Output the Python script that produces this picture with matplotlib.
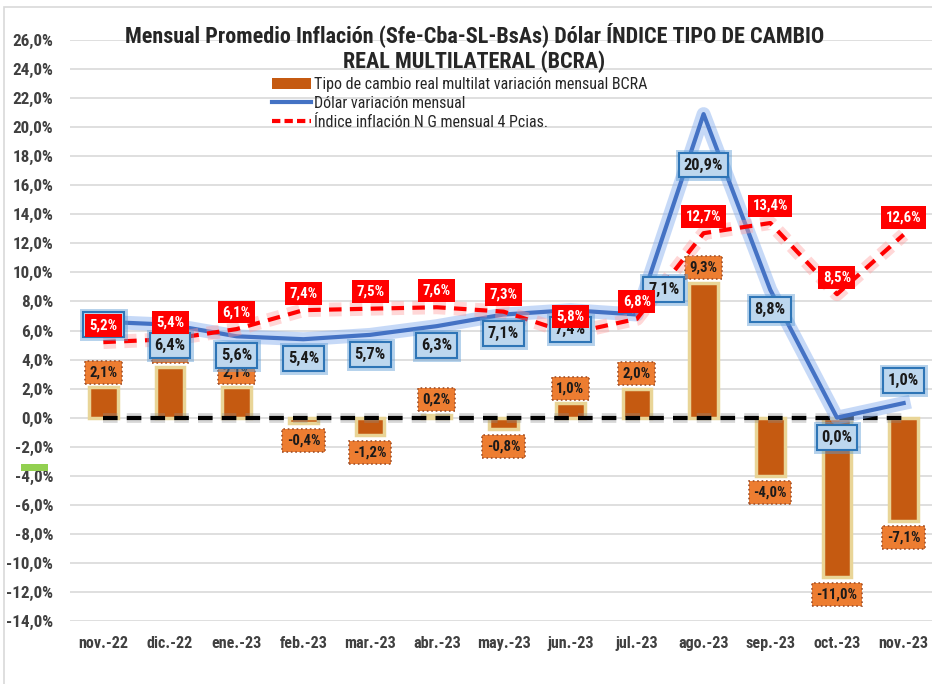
import matplotlib
matplotlib.use('Agg')
import matplotlib.pyplot as plt
import matplotlib.patheffects as pe
from matplotlib import font_manager
from matplotlib.patches import Rectangle, Patch
from matplotlib.lines import Line2D
import numpy as np

# ---- font choice: prefer a narrow, Calibri-like face ----
_avail = {(f.name, f.stretch) for f in font_manager.fontManager.ttflist}
_names = {n for n, _ in _avail}
FONT = 'DejaVu Sans'
STRETCH = 'normal'
for cand in ['Liberation Sans Narrow', 'Roboto Condensed', 'Open Sans Condensed']:
    if cand in _names:
        FONT = cand
        break
else:
    if any(n == 'DejaVu Sans' and s in ('condensed', 'semi-condensed', 'semi-condensed')
           for n, s in _avail):
        FONT, STRETCH = 'DejaVu Sans', 'condensed'
    elif 'Lato' in _names:
        FONT = 'Lato'
plt.rcParams['font.family'] = [FONT, 'DejaVu Sans']
plt.rcParams['font.stretch'] = STRETCH

categories = ['nov.-22', 'dic.-22', 'ene.-23', 'feb.-23', 'mar.-23', 'abr.-23', 'may.-23',
              'jun.-23', 'jul.-23', 'ago.-23', 'sep.-23', 'oct.-23', 'nov.-23']
tcrm = [2.1, 3.5, 2.1, -0.4, -1.2, 0.2, -0.8, 1.0, 2.0, 9.3, -4.0, -11.0, -7.1]
dolar = [6.6, 6.4, 5.6, 5.4, 5.7, 6.3, 7.1, 7.4, 7.1, 20.9, 8.8, 0.0, 1.0]
inflacion = [5.2, 5.4, 6.1, 7.4, 7.5, 7.6, 7.3, 5.8, 6.8, 12.7, 13.4, 8.5, 12.6]
cero = [0.0] * 13
yticks = list(range(-14, 27, 2))
series_names = ['Tipo de cambio real multilat variación mensual BCRA',
                'Dólar variación mensual',
                'Índice inflación N G mensual 4 Pcias.']
title_lines = ['Mensual Promedio Inflación (Sfe-Cba-SL-BsAs) Dólar ÍNDICE TIPO DE CAMBIO',
               'REAL MULTILATERAL (BCRA)']

# label offsets in pixels (placement only)
dolar_off = [(0, -3), (0, -21), (0, -19), (0, -19), (0, -20), (0, -19), (0, -19), (0, -19),
             (27, 25), (0, -51), (0, -20), (0, -20), (0, 23)]


def fmt(v):
    return f'{v:.1f}%'.replace('.', ',')


W, H = 932, 684
fig = plt.figure(figsize=(W / 100, H / 100), dpi=100)
renderer = fig.canvas.get_renderer()


def fit_size(s, target_px, weight='bold', base=10.0):
    t = fig.text(0, 0, s, fontsize=base, fontweight=weight)
    w = t.get_window_extent(renderer).width
    t.remove()
    return base * target_px / w


fig.patches.append(Rectangle((4 / W, -0.1), 1.2, 1.1 - 7 / H, transform=fig.transFigure,
                             fill=False, edgecolor='#D9D9D9', linewidth=1.2))
fig.patches.append(Rectangle((21 / W, 1 - 471 / H), 27 / W, 7 / H, transform=fig.transFigure,
                             facecolor='#92D050', edgecolor='none'))

tick_fs = fit_size('nov.-22', 50)
ytick_fs = fit_size('26,0%', 41)
lab_fs = fit_size('5,2%', 28)
dlab_fs = fit_size('6,4%', 31)

ax = fig.add_axes([70 / W, 1 - 621 / H, 867 / W, 581 / H])
x = np.arange(len(categories))
ax.set_xlim(-0.5, len(categories) - 0.5)
ax.set_ylim(-14, 26)
ax.set_yticks(yticks)
ax.set_yticklabels([fmt(v) for v in yticks], fontsize=ytick_fs, fontweight='bold', color='#404040')
ax.set_xticks(x)
ax.set_xticklabels(categories, fontsize=tick_fs, fontweight='bold', color='#404040')
ax.tick_params(axis='both', length=0)
ax.tick_params(axis='y', pad=12)
ax.tick_params(axis='x', pad=11)
ax.grid(axis='y', color='#D9D9D9', linewidth=1.2)
ax.set_axisbelow(True)
for s in ax.spines.values():
    s.set_visible(False)

ax.bar(x, tcrm, width=0.43, color='#C55A11', edgecolor='#E9D597', linewidth=2.5, zorder=2)

ax.plot(x, cero, color='black', linewidth=3, dashes=(3.5, 2.2), zorder=4,
        path_effects=[pe.Stroke(linewidth=7, foreground='#8C8C8C', alpha=0.35), pe.Normal()])

ax.plot(x, dolar, color='#4472C4', linewidth=3, zorder=5, solid_joinstyle='round',
        path_effects=[pe.Stroke(linewidth=10, foreground='#8FB4F0', alpha=0.5), pe.Normal()])

ax.plot(x, inflacion, color='#FF0000', linewidth=3, dashes=(3, 2), zorder=6,
        path_effects=[pe.Stroke(linewidth=10, foreground='#FF9C9C', alpha=0.4), pe.Normal()])

# bar labels
for xi, v in zip(x, tcrm):
    dy = 15 if v >= 0 else -17
    ax.annotate(fmt(v), (xi, v), xytext=(0, dy), textcoords='offset pixels',
                ha='center', va='center', fontsize=lab_fs, fontweight='bold', color='#1a1a1a',
                zorder=3,
                bbox=dict(boxstyle='square,pad=0.3', facecolor='#ED7D31', edgecolor='#A0522D',
                          linestyle=':', linewidth=1.2))

# dollar labels
for xi, v, (dx, dy) in zip(x, dolar, dolar_off):
    t = ax.annotate(fmt(v), (xi, v), xytext=(dx, dy), textcoords='offset pixels',
                    ha='center', va='center', fontsize=dlab_fs, fontweight='bold', color='#1a1a1a',
                    zorder=7,
                    bbox=dict(boxstyle='square,pad=0.3', facecolor='#BDD7EE', edgecolor='#2E75B6',
                              linewidth=1.5))
    t.get_bbox_patch().set_path_effects([pe.Stroke(linewidth=5, foreground='#5B9BD5', alpha=0.45),
                                         pe.Normal()])

# inflation labels
for xi, v in zip(x, inflacion):
    ax.annotate(fmt(v), (xi, v), xytext=(0, 17), textcoords='offset pixels',
                ha='center', va='center', fontsize=lab_fs, fontweight='bold', color='white',
                zorder=8,
                bbox=dict(boxstyle='square,pad=0.3', facecolor='#FF0000', edgecolor='none'))

title_fs = fit_size(title_lines[0], 700)
fig.text(475 / W, 1 - 35 / H, title_lines[0], ha='center', va='center', fontsize=title_fs,
         fontweight='bold', color='#262626')
fig.text(474 / W, 1 - 62 / H, title_lines[1], ha='center', va='center', fontsize=title_fs,
         fontweight='bold', color='#262626')

leg_fs = fit_size(series_names[0], 334, weight='normal')
handles = [Patch(facecolor='#C55A11', edgecolor='none'),
           Line2D([0], [0], color='#4472C4', linewidth=3),
           Line2D([0], [0], color='#FF0000', linewidth=3, dashes=(2, 1))]
leg = fig.legend(handles, series_names, loc='upper left', bbox_to_anchor=(272 / W, 1 - 77 / H),
                 frameon=False, fontsize=leg_fs, handlelength=2.4, handletextpad=0.2,
                 labelspacing=0.25, borderpad=0, borderaxespad=0)
for txt in leg.get_texts():
    txt.set_color('#262626')

fig.savefig('out.png', dpi=100)
